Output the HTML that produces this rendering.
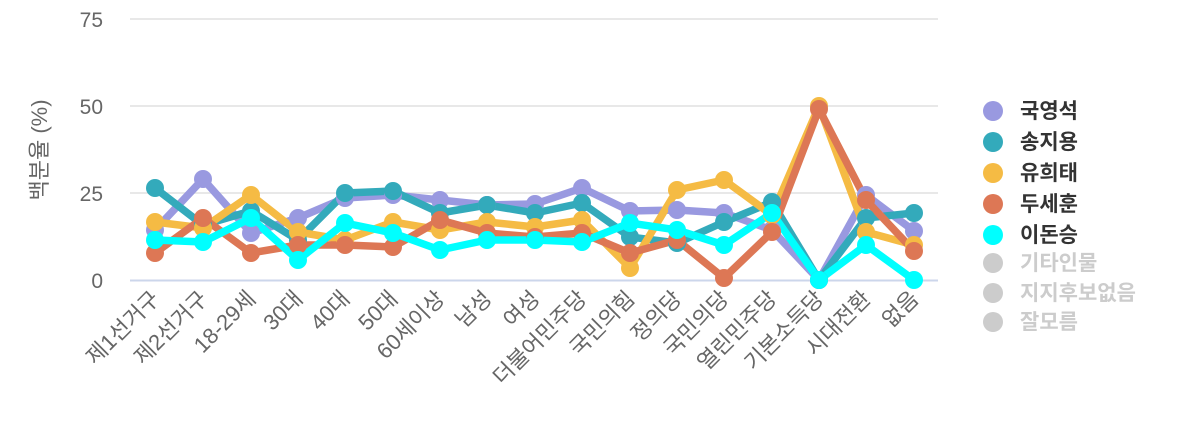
<!DOCTYPE html>
<html><head><meta charset="utf-8"><style>body{margin:0;background:#fff}svg{display:block}text{font-family:"Liberation Sans","Noto Sans CJK KR",sans-serif}</style></head><body>
<svg width="1200" height="440" xmlns="http://www.w3.org/2000/svg">
<g stroke="#e0e0e0" stroke-width="1.5">
<line x1="130" x2="938" y1="19" y2="19"/><line x1="130" x2="938" y1="106" y2="106"/><line x1="130" x2="938" y1="193" y2="193"/>
</g>
<line x1="130" x2="938" y1="280.5" y2="280.5" stroke="#ccd6eb" stroke-width="2"/>
<g fill="#666" font-size="21" text-anchor="end">
<text x="103" y="27">75</text><text x="103" y="114">50</text><text x="103" y="201">25</text><text x="103" y="288">0</text>
</g>
<text transform="translate(47,150) rotate(-90)" fill="#666" font-size="22" text-anchor="middle">백분율 (%)</text>
<g fill="#666" font-size="22" text-anchor="end">
<text transform="translate(161,300) rotate(-45)">제1선거구</text>
<text transform="translate(209,300) rotate(-45)">제2선거구</text>
<text transform="translate(257,300) rotate(-45)">18-29세</text>
<text transform="translate(304,300) rotate(-45)">30대</text>
<text transform="translate(351,300) rotate(-45)">40대</text>
<text transform="translate(399,300) rotate(-45)">50대</text>
<text transform="translate(446,300) rotate(-45)">60세이상</text>
<text transform="translate(493,300) rotate(-45)">남성</text>
<text transform="translate(541,300) rotate(-45)">여성</text>
<text transform="translate(588,300) rotate(-45)">더불어민주당</text>
<text transform="translate(636,300) rotate(-45)">국민의힘</text>
<text transform="translate(683,300) rotate(-45)">정의당</text>
<text transform="translate(730,300) rotate(-45)">국민의당</text>
<text transform="translate(778,300) rotate(-45)">열린민주당</text>
<text transform="translate(825,300) rotate(-45)">기본소득당</text>
<text transform="translate(872,300) rotate(-45)">시대전환</text>
<text transform="translate(920,300) rotate(-45)">없음</text>
</g>
<g id="s" stroke-width="7.5" fill="none" stroke-linejoin="round">
<polyline stroke="#9999e0" points="155,230 203,179 251,233 298,218 345,198 393,195 440,200 487,205 535,204 582,188 630,211 677,210 724,213 772,230 819,280 866,195 914,231"/>
<polyline stroke="#33aabb" points="155,188 203,225 251,211 298,240 345,193 393,191 440,213 487,205 535,213 582,203 630,237 677,243 724,222 772,202 819,280 866,218 914,213"/>
<polyline stroke="#f5bb44" points="155,222 203,228 251,195 298,232 345,240 393,222 440,230 487,222 535,227 582,220 630,268 677,190 724,180 772,215 819,106 866,232 914,245"/>
<polyline stroke="#dd7755" points="155,253 203,218 251,253 298,245 345,245 393,247 440,220 487,233 535,237 582,233 630,253 677,240 724,278 772,232 819,109 866,200 914,251"/>
<polyline stroke="#00ffff" points="155,240 203,242 251,218 298,260 345,223 393,233 440,250 487,240 535,240 582,242 630,223 677,230 724,245 772,213 819,280 866,245 914,280"/>
</g>
<script>
var s=document.getElementById('s');var pls=[].slice.call(s.querySelectorAll('polyline'));
pls.forEach(function(p){var c=p.getAttribute('stroke');p.getAttribute('points').trim().split(/\s+/).forEach(function(pt){var a=pt.split(',');var e=document.createElementNS('http://www.w3.org/2000/svg','circle');e.setAttribute('cx',a[0]);e.setAttribute('cy',a[1]);e.setAttribute('r','9');e.setAttribute('fill',c);e.setAttribute('stroke','none');s.appendChild(e);});});
</script>
<g font-size="21" font-weight="bold">
<circle cx="993" cy="111" r="10" fill="#9999e0"/><text x="1020" y="118" fill="#333">국영석</text>
<circle cx="993" cy="142" r="10" fill="#33aabb"/><text x="1020" y="149" fill="#333">송지용</text>
<circle cx="993" cy="173" r="10" fill="#f5bb44"/><text x="1020" y="180" fill="#333">유희태</text>
<circle cx="993" cy="204" r="10" fill="#dd7755"/><text x="1020" y="211" fill="#333">두세훈</text>
<circle cx="993" cy="235" r="10" fill="#00ffff"/><text x="1020" y="242" fill="#333">이돈승</text>
<circle cx="993" cy="263" r="10" fill="#ccc"/><text x="1020" y="270" fill="#ccc">기타인물</text>
<circle cx="993" cy="293" r="10" fill="#ccc"/><text x="1020" y="300" fill="#ccc">지지후보없음</text>
<circle cx="993" cy="322" r="10" fill="#ccc"/><text x="1020" y="329" fill="#ccc">잘모름</text>
</g>
</svg>
</body></html>
